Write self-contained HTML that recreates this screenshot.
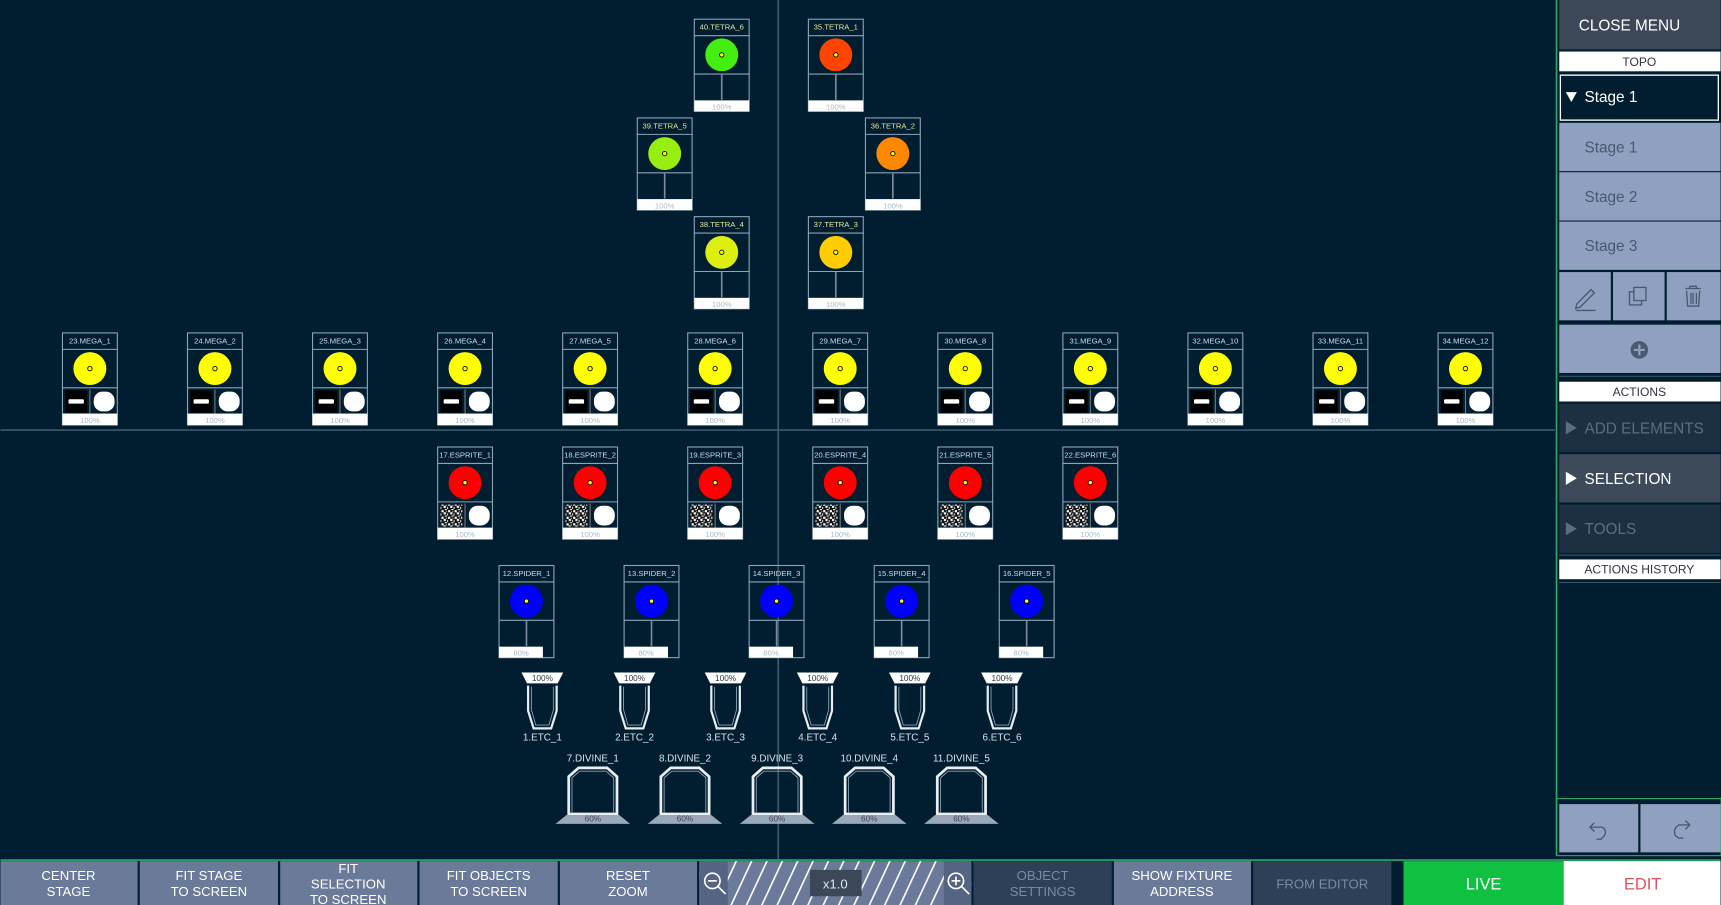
<!DOCTYPE html>
<html><head><meta charset="utf-8"><style>
html,body{margin:0;padding:0;background:#011e30;overflow:hidden}
svg{display:block;font-family:"Liberation Sans",sans-serif}
</style></head><body>
<svg width="1721" height="905" viewBox="0 0 1568 825" xmlns="http://www.w3.org/2000/svg">
<defs>
<pattern id="noise" width="6" height="6" patternUnits="userSpaceOnUse">
<rect width="6" height="6" fill="#111"/>
<rect x="0" y="0" width="2" height="2" fill="#fff"/><rect x="3" y="1" width="1" height="2" fill="#ddd"/>
<rect x="1" y="3" width="2" height="1" fill="#eee"/><rect x="4" y="4" width="2" height="2" fill="#fff"/>
<rect x="2" y="5" width="1" height="1" fill="#bbb"/>
</pattern>
<pattern id="stripes" width="14" height="40" patternUnits="userSpaceOnUse" patternTransform="skewX(-25)">
<rect width="14" height="40" fill="#6b7a99"/><rect x="0" width="1.6" height="40" fill="#fff"/>
</pattern>
<g id="fr">
<rect x="0.5" y="0.5" width="50" height="84" fill="none" stroke="#8aa4b8" stroke-width="1"/>
<line x1="0" y1="15.5" x2="51" y2="15.5" stroke="#8aa4b8"/>
</g>
<g id="mb">
<line x1="0" y1="50.5" x2="51" y2="50.5" stroke="#8aa4b8"/>
<rect x="3" y="53" width="20" height="20" fill="#000"/>
<rect x="6" y="61" width="14" height="4" fill="#fff" rx="1"/>
<line x1="25.5" y1="52" x2="25.5" y2="74" stroke="#777"/>
<rect x="29" y="54" width="19" height="18" rx="8" fill="#fff"/>
<rect x="0.5" y="74" width="50" height="10.5" fill="#fff"/>
</g>
<g id="eb">
<line x1="0" y1="50.5" x2="51" y2="50.5" stroke="#8aa4b8"/>
<rect x="3" y="53" width="20" height="20" fill="url(#noise)"/>
<line x1="25.5" y1="52" x2="25.5" y2="74" stroke="#777"/>
<rect x="29" y="54" width="19" height="18" rx="8" fill="#fff"/>
<rect x="0.5" y="74" width="50" height="10.5" fill="#fff"/>
</g>
<g id="tb">
<line x1="0" y1="50.5" x2="51" y2="50.5" stroke="#8aa4b8"/>
<line x1="25.5" y1="51" x2="25.5" y2="74" stroke="#7a8c9a" stroke-width="1.5"/>
<rect x="0.5" y="74.5" width="50" height="10" fill="#fff"/>
</g>
<g id="sb">
<line x1="0" y1="50.5" x2="51" y2="50.5" stroke="#8aa4b8"/>
<line x1="25.5" y1="51" x2="25.5" y2="74" stroke="#7a8c9a" stroke-width="1.5"/>
<rect x="0.5" y="74.5" width="40" height="10" fill="#fff"/>
</g>
<g id="dot"><circle cx="25.5" cy="33" r="2" fill="#ff0" stroke="#000" stroke-width="0.8"/></g>
</defs>
<rect width="1568" height="825" fill="#011e30"/>
<line x1="709" y1="0" x2="709" y2="783" stroke="#3d5a6c" stroke-width="1.5"/>
<line x1="0" y1="392" x2="1417" y2="392" stroke="#3d5a6c" stroke-width="1.5"/>

<g font-size="7" text-anchor="middle">
<!-- TETRA -->
<g transform="translate(632,17)"><use href="#fr"/><use href="#tb"/><circle cx="25.5" cy="33" r="15" fill="#44ee11"/><use href="#dot"/><text x="25.5" y="10" fill="#e0e6a0">40.TETRA_6</text><text x="25.5" y="83" fill="#a8b8c8">100%</text></g>
<g transform="translate(736,17)"><use href="#fr"/><use href="#tb"/><circle cx="25.5" cy="33" r="15" fill="#ff4400"/><use href="#dot"/><text x="25.5" y="10" fill="#e0e6a0">35.TETRA_1</text><text x="25.5" y="83" fill="#a8b8c8">100%</text></g>
<g transform="translate(580,107)"><use href="#fr"/><use href="#tb"/><circle cx="25.5" cy="33" r="15" fill="#99ee11"/><use href="#dot"/><text x="25.5" y="10" fill="#e0e6a0">39.TETRA_5</text><text x="25.5" y="83" fill="#a8b8c8">100%</text></g>
<g transform="translate(788,107)"><use href="#fr"/><use href="#tb"/><circle cx="25.5" cy="33" r="15" fill="#ff8800"/><use href="#dot"/><text x="25.5" y="10" fill="#e0e6a0">36.TETRA_2</text><text x="25.5" y="83" fill="#a8b8c8">100%</text></g>
<g transform="translate(632,197)"><use href="#fr"/><use href="#tb"/><circle cx="25.5" cy="33" r="15" fill="#ddee11"/><use href="#dot"/><text x="25.5" y="10" fill="#e0e6a0">38.TETRA_4</text><text x="25.5" y="83" fill="#a8b8c8">100%</text></g>
<g transform="translate(736,197)"><use href="#fr"/><use href="#tb"/><circle cx="25.5" cy="33" r="15" fill="#ffcc00"/><use href="#dot"/><text x="25.5" y="10" fill="#e0e6a0">37.TETRA_3</text><text x="25.5" y="83" fill="#a8b8c8">100%</text></g>

<!-- MEGA -->
<g transform="translate(56,303)"><use href="#fr"/><use href="#mb"/><circle cx="25.5" cy="33" r="15" fill="#ffff00"/><use href="#dot"/><text x="25.5" y="10" fill="#cfdbe6">23.MEGA_1</text><text x="25.5" y="82.5" fill="#a8b8c8">100%</text></g>
<g transform="translate(170,303)"><use href="#fr"/><use href="#mb"/><circle cx="25.5" cy="33" r="15" fill="#ffff00"/><use href="#dot"/><text x="25.5" y="10" fill="#cfdbe6">24.MEGA_2</text><text x="25.5" y="82.5" fill="#a8b8c8">100%</text></g>
<g transform="translate(284,303)"><use href="#fr"/><use href="#mb"/><circle cx="25.5" cy="33" r="15" fill="#ffff00"/><use href="#dot"/><text x="25.5" y="10" fill="#cfdbe6">25.MEGA_3</text><text x="25.5" y="82.5" fill="#a8b8c8">100%</text></g>
<g transform="translate(398,303)"><use href="#fr"/><use href="#mb"/><circle cx="25.5" cy="33" r="15" fill="#ffff00"/><use href="#dot"/><text x="25.5" y="10" fill="#cfdbe6">26.MEGA_4</text><text x="25.5" y="82.5" fill="#a8b8c8">100%</text></g>
<g transform="translate(512,303)"><use href="#fr"/><use href="#mb"/><circle cx="25.5" cy="33" r="15" fill="#ffff00"/><use href="#dot"/><text x="25.5" y="10" fill="#cfdbe6">27.MEGA_5</text><text x="25.5" y="82.5" fill="#a8b8c8">100%</text></g>
<g transform="translate(626,303)"><use href="#fr"/><use href="#mb"/><circle cx="25.5" cy="33" r="15" fill="#ffff00"/><use href="#dot"/><text x="25.5" y="10" fill="#cfdbe6">28.MEGA_6</text><text x="25.5" y="82.5" fill="#a8b8c8">100%</text></g>
<g transform="translate(740,303)"><use href="#fr"/><use href="#mb"/><circle cx="25.5" cy="33" r="15" fill="#ffff00"/><use href="#dot"/><text x="25.5" y="10" fill="#cfdbe6">29.MEGA_7</text><text x="25.5" y="82.5" fill="#a8b8c8">100%</text></g>
<g transform="translate(854,303)"><use href="#fr"/><use href="#mb"/><circle cx="25.5" cy="33" r="15" fill="#ffff00"/><use href="#dot"/><text x="25.5" y="10" fill="#cfdbe6">30.MEGA_8</text><text x="25.5" y="82.5" fill="#a8b8c8">100%</text></g>
<g transform="translate(968,303)"><use href="#fr"/><use href="#mb"/><circle cx="25.5" cy="33" r="15" fill="#ffff00"/><use href="#dot"/><text x="25.5" y="10" fill="#cfdbe6">31.MEGA_9</text><text x="25.5" y="82.5" fill="#a8b8c8">100%</text></g>
<g transform="translate(1082,303)"><use href="#fr"/><use href="#mb"/><circle cx="25.5" cy="33" r="15" fill="#ffff00"/><use href="#dot"/><text x="25.5" y="10" fill="#cfdbe6">32.MEGA_10</text><text x="25.5" y="82.5" fill="#a8b8c8">100%</text></g>
<g transform="translate(1196,303)"><use href="#fr"/><use href="#mb"/><circle cx="25.5" cy="33" r="15" fill="#ffff00"/><use href="#dot"/><text x="25.5" y="10" fill="#cfdbe6">33.MEGA_11</text><text x="25.5" y="82.5" fill="#a8b8c8">100%</text></g>
<g transform="translate(1310,303)"><use href="#fr"/><use href="#mb"/><circle cx="25.5" cy="33" r="15" fill="#ffff00"/><use href="#dot"/><text x="25.5" y="10" fill="#cfdbe6">34.MEGA_12</text><text x="25.5" y="82.5" fill="#a8b8c8">100%</text></g>

<!-- ESPRITE -->
<g transform="translate(398,407)"><use href="#fr"/><use href="#eb"/><circle cx="25.5" cy="33" r="15" fill="#ff0000"/><use href="#dot"/><text x="25.5" y="10" fill="#cfdbe6">17.ESPRITE_1</text><text x="25.5" y="82.5" fill="#a8b8c8">100%</text></g>
<g transform="translate(512,407)"><use href="#fr"/><use href="#eb"/><circle cx="25.5" cy="33" r="15" fill="#ff0000"/><use href="#dot"/><text x="25.5" y="10" fill="#cfdbe6">18.ESPRITE_2</text><text x="25.5" y="82.5" fill="#a8b8c8">100%</text></g>
<g transform="translate(626,407)"><use href="#fr"/><use href="#eb"/><circle cx="25.5" cy="33" r="15" fill="#ff0000"/><use href="#dot"/><text x="25.5" y="10" fill="#cfdbe6">19.ESPRITE_3</text><text x="25.5" y="82.5" fill="#a8b8c8">100%</text></g>
<g transform="translate(740,407)"><use href="#fr"/><use href="#eb"/><circle cx="25.5" cy="33" r="15" fill="#ff0000"/><use href="#dot"/><text x="25.5" y="10" fill="#cfdbe6">20.ESPRITE_4</text><text x="25.5" y="82.5" fill="#a8b8c8">100%</text></g>
<g transform="translate(854,407)"><use href="#fr"/><use href="#eb"/><circle cx="25.5" cy="33" r="15" fill="#ff0000"/><use href="#dot"/><text x="25.5" y="10" fill="#cfdbe6">21.ESPRITE_5</text><text x="25.5" y="82.5" fill="#a8b8c8">100%</text></g>
<g transform="translate(968,407)"><use href="#fr"/><use href="#eb"/><circle cx="25.5" cy="33" r="15" fill="#ff0000"/><use href="#dot"/><text x="25.5" y="10" fill="#cfdbe6">22.ESPRITE_6</text><text x="25.5" y="82.5" fill="#a8b8c8">100%</text></g>

<!-- SPIDER -->
<g transform="translate(454,515)"><use href="#fr"/><use href="#sb"/><circle cx="25.5" cy="33" r="15" fill="#0000ff"/><use href="#dot"/><text x="25.5" y="10" fill="#cfdbe6">12.SPIDER_1</text><text x="20.5" y="82.5" fill="#a8b8c8">80%</text></g>
<g transform="translate(568,515)"><use href="#fr"/><use href="#sb"/><circle cx="25.5" cy="33" r="15" fill="#0000ff"/><use href="#dot"/><text x="25.5" y="10" fill="#cfdbe6">13.SPIDER_2</text><text x="20.5" y="82.5" fill="#a8b8c8">80%</text></g>
<g transform="translate(682,515)"><use href="#fr"/><use href="#sb"/><circle cx="25.5" cy="33" r="15" fill="#0000ff"/><use href="#dot"/><text x="25.5" y="10" fill="#cfdbe6">14.SPIDER_3</text><text x="20.5" y="82.5" fill="#a8b8c8">80%</text></g>
<g transform="translate(796,515)"><use href="#fr"/><use href="#sb"/><circle cx="25.5" cy="33" r="15" fill="#0000ff"/><use href="#dot"/><text x="25.5" y="10" fill="#cfdbe6">15.SPIDER_4</text><text x="20.5" y="82.5" fill="#a8b8c8">80%</text></g>
<g transform="translate(910,515)"><use href="#fr"/><use href="#sb"/><circle cx="25.5" cy="33" r="15" fill="#0000ff"/><use href="#dot"/><text x="25.5" y="10" fill="#cfdbe6">16.SPIDER_5</text><text x="20.5" y="82.5" fill="#a8b8c8">80%</text></g>
</g>

<!-- ETC -->
<defs>
<g id="etc">
<polygon points="-19,613 19,613 14,623 -14,623" fill="#fff"/>
<path d="M-13,625 L-13,648 L-8,664 L8,664 L13,648 L13,625" fill="none" stroke="#e8eef2" stroke-width="2"/>
<path d="M-10,626 L-10,647 L-6,661 L6,661 L10,647 L10,626" fill="none" stroke="#8aa4b8" stroke-width="0.8"/>
</g>
<g id="div">
<path d="M-22,742 L-22,708 L-13,700 L13,700 L22,708 L22,742 Z" fill="none" stroke="#e8eef2" stroke-width="2.5"/>
<path d="M-19,741 L-19,709 L-12,703 L12,703 L19,709 L19,741" fill="none" stroke="#8aa4b8" stroke-width="0.8"/>
<polygon points="-24,743 24,743 34,751 -34,751" fill="#9aa8b8"/>
</g>
</defs>
<g font-size="9" text-anchor="middle" fill="#d8e2ea">
<g transform="translate(494,0)"><use href="#etc"/><text x="0" y="621" font-size="7.5" fill="#334">100%</text><text x="0" y="675">1.ETC_1</text></g>
<g transform="translate(578,0)"><use href="#etc"/><text x="0" y="621" font-size="7.5" fill="#334">100%</text><text x="0" y="675">2.ETC_2</text></g>
<g transform="translate(661,0)"><use href="#etc"/><text x="0" y="621" font-size="7.5" fill="#334">100%</text><text x="0" y="675">3.ETC_3</text></g>
<g transform="translate(745,0)"><use href="#etc"/><text x="0" y="621" font-size="7.5" fill="#334">100%</text><text x="0" y="675">4.ETC_4</text></g>
<g transform="translate(829,0)"><use href="#etc"/><text x="0" y="621" font-size="7.5" fill="#334">100%</text><text x="0" y="675">5.ETC_5</text></g>
<g transform="translate(913,0)"><use href="#etc"/><text x="0" y="621" font-size="7.5" fill="#334">100%</text><text x="0" y="675">6.ETC_6</text></g>
<g transform="translate(540,0)"><use href="#div"/><text x="0" y="694">7.DIVINE_1</text><text x="0" y="749" font-size="7.5" fill="#445">60%</text></g>
<g transform="translate(624,0)"><use href="#div"/><text x="0" y="694">8.DIVINE_2</text><text x="0" y="749" font-size="7.5" fill="#445">60%</text></g>
<g transform="translate(708,0)"><use href="#div"/><text x="0" y="694">9.DIVINE_3</text><text x="0" y="749" font-size="7.5" fill="#445">60%</text></g>
<g transform="translate(792,0)"><use href="#div"/><text x="0" y="694">10.DIVINE_4</text><text x="0" y="749" font-size="7.5" fill="#445">60%</text></g>
<g transform="translate(876,0)"><use href="#div"/><text x="0" y="694">11.DIVINE_5</text><text x="0" y="749" font-size="7.5" fill="#445">60%</text></g>
</g>

<!-- RIGHT PANEL -->
<line x1="1418.5" y1="0" x2="1418.5" y2="780" stroke="#2fa86a" stroke-width="1.5"/>
<rect x="1421" y="0" width="147" height="45" fill="#3c4858"/>
<text x="1485" y="28" font-size="14" fill="#fff" text-anchor="middle">CLOSE MENU</text>
<rect x="1421" y="47" width="147" height="18" fill="#fff"/>
<text x="1494" y="60" font-size="11" fill="#334" text-anchor="middle">TOPO</text>
<rect x="1422" y="68.5" width="144" height="41" fill="#011e30" stroke="#fff" stroke-width="1.2"/>
<polygon points="1427,84 1437,84 1432,93" fill="#fff"/>
<text x="1444" y="93" font-size="14" fill="#fff">Stage 1</text>
<rect x="1421" y="112" width="147" height="44" fill="#8fa0c0"/>
<rect x="1421" y="157" width="147" height="44" fill="#8fa0c0"/>
<rect x="1421" y="202" width="147" height="44" fill="#8fa0c0"/>
<g font-size="14" fill="#4a5870"><text x="1444" y="139">Stage 1</text><text x="1444" y="184">Stage 2</text><text x="1444" y="229">Stage 3</text></g>
<rect x="1421" y="248" width="47" height="44" fill="#8fa0c0"/>
<rect x="1470" y="248" width="47" height="44" fill="#8fa0c0"/>
<rect x="1519" y="248" width="49" height="44" fill="#8fa0c0"/>
<g fill="none" stroke="#4a5870" stroke-width="1.2">
<path d="M1437,277 L1450,264 L1453,267 L1440,280 L1436,281 Z M1436,283 L1454,283"/>
<rect x="1485" y="266" width="11" height="12"/><rect x="1489" y="262" width="11" height="12" fill="#8fa0c0"/>
<path d="M1536,263 L1550,263 M1540,263 L1540,261 L1546,261 L1546,263 M1537,265 L1538,279 L1548,279 L1549,265 M1541,267 L1541,277 M1543,267 L1543,277 M1546,267 L1546,277"/>
</g>
<rect x="1421" y="296" width="147" height="44" fill="#8fa0c0"/>
<circle cx="1494" cy="319" r="8" fill="#4a5870"/>
<path d="M1494,314 V324 M1489,319 H1499" stroke="#8fa0c0" stroke-width="2"/>
<line x1="1421" y1="343" x2="1568" y2="343" stroke="#3d5a6c"/>
<rect x="1421" y="348" width="147" height="18" fill="#fff"/>
<text x="1494" y="361" font-size="11" fill="#334" text-anchor="middle">ACTIONS</text>
<rect x="1421" y="368" width="147" height="44" fill="#1c3042"/>
<rect x="1421" y="414" width="147" height="44" fill="#3c4a5a"/>
<rect x="1421" y="460" width="147" height="44" fill="#1c3042"/>
<polygon points="1427,384 1437,390 1427,396" fill="#5a6e80"/>
<polygon points="1427,430 1437,436 1427,442" fill="#fff"/>
<polygon points="1427,476 1437,482 1427,488" fill="#5a6e80"/>
<g font-size="14"><text x="1444" y="395" fill="#5a6e80">ADD ELEMENTS</text><text x="1444" y="441" fill="#fff">SELECTION</text><text x="1444" y="487" fill="#5a6e80">TOOLS</text></g>
<line x1="1421" y1="506" x2="1568" y2="506" stroke="#3d5a6c"/>
<rect x="1421" y="510" width="147" height="18" fill="#fff"/>
<text x="1494" y="523" font-size="11" fill="#334" text-anchor="middle">ACTIONS HISTORY</text>
<line x1="1421" y1="531" x2="1568" y2="531" stroke="#3d5a6c"/>
<rect x="1418.5" y="728" width="150" height="52" fill="none" stroke="#2fa86a" stroke-width="1"/>
<rect x="1421" y="733" width="72" height="44" fill="#8fa0c0"/>
<rect x="1495" y="733" width="73" height="44" fill="#8fa0c0"/>
<g fill="none" stroke="#4a5870" stroke-width="1.2">
<path d="M1453,750 L1449,754 L1453,758 M1449,754 L1460,754 Q1465,757 1462,762 L1459,765 L1455,765"/>
<path d="M1536,748 L1540,752 L1536,756 M1540,752 L1530,752 Q1524,756 1527,762 L1530,764 L1534,764"/>
</g>

<!-- BOTTOM BAR -->
<line x1="0" y1="784" x2="1268" y2="784" stroke="#2fa86a" stroke-width="1.5"/>
<line x1="1268" y1="784" x2="1568" y2="784" stroke="#2fa86a" stroke-width="1.5"/>
<g fill="#6b7a99">
<rect x="0" y="785" width="125" height="40"/><rect x="127" y="785" width="126" height="40"/><rect x="255" y="785" width="125" height="40"/><rect x="382" y="785" width="126" height="40"/><rect x="510" y="785" width="125" height="40"/>
<rect x="1015" y="785" width="125" height="40"/>
</g>
<rect x="637" y="785" width="248" height="40" fill="url(#stripes)"/>
<rect x="637" y="785" width="26" height="40" fill="#556482"/>
<rect x="860" y="785" width="25" height="40" fill="#556482"/>
<g fill="none" stroke="#fff" stroke-width="1.5">
<circle cx="649" cy="803" r="7"/><line x1="654" y1="808" x2="661" y2="815"/><line x1="645" y1="803" x2="653" y2="803"/>
<circle cx="871" cy="803" r="7"/><line x1="876" y1="808" x2="883" y2="815"/><line x1="867" y1="803" x2="875" y2="803"/><line x1="871" y1="799" x2="871" y2="807"/>
</g>
<rect x="738" y="793" width="47" height="24" fill="#3c4858"/>
<text x="761" y="810" font-size="12" fill="#e0e4ea" text-anchor="middle">x1.0</text>
<rect x="887" y="785" width="126" height="40" fill="#2e4058"/>
<rect x="1142" y="785" width="126" height="40" fill="#2e4058"/>
<rect x="1279" y="785" width="146" height="40" fill="#10c040"/>
<rect x="1425" y="785" width="143" height="40" fill="#fff"/>
<g font-size="12" fill="#fff" text-anchor="middle">
<text x="62" y="802">CENTER</text><text x="62" y="817">STAGE</text>
<text x="190" y="802">FIT STAGE</text><text x="190" y="817">TO SCREEN</text>
<text x="317" y="796">FIT</text><text x="317" y="810">SELECTION</text><text x="317" y="824">TO SCREEN</text>
<text x="445" y="802">FIT OBJECTS</text><text x="445" y="817">TO SCREEN</text>
<text x="572" y="802">RESET</text><text x="572" y="817">ZOOM</text>
<text x="950" y="802" fill="#7a8aa4">OBJECT</text><text x="950" y="817" fill="#7a8aa4">SETTINGS</text>
<text x="1077" y="802">SHOW FIXTURE</text><text x="1077" y="817">ADDRESS</text>
<text x="1205" y="810" fill="#7a8aa4">FROM EDITOR</text>
<text x="1352" y="811" font-size="15">LIVE</text>
<text x="1497" y="811" font-size="15" fill="#e05060">EDIT</text>
</g>
</svg>
</body></html>
